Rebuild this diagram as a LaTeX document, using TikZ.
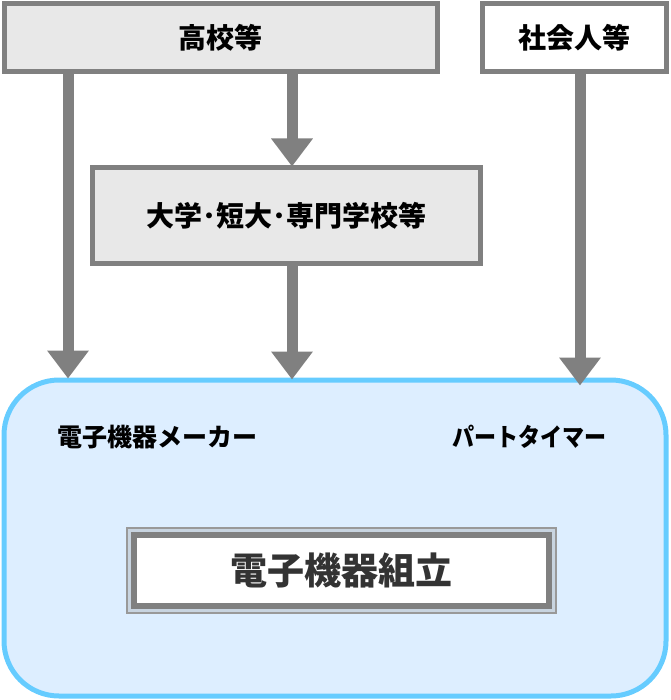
\documentclass[tikz,border=0pt]{standalone}
\usepackage{fontspec}
\setmainfont{Noto Sans CJK JP}
\usetikzlibrary{arrows.meta,calc}
\definecolor{bordergray}{HTML}{808080}
\definecolor{boxfill}{HTML}{E8E8E8}
\definecolor{bigborder}{HTML}{66CCFF}
\definecolor{bigfill}{HTML}{DDEEFF}
\definecolor{darktext}{HTML}{333333}
\definecolor{gapfill}{HTML}{C8D4E0}
\tikzset{
  srcbox/.style={draw=bordergray, line width=5pt, rectangle, inner sep=0pt, font=\bfseries\fontsize{28}{30}\selectfont},
  flowarrow/.style={draw=bordergray, line width=11pt, -{Triangle[length=28pt,width=40pt]}},
  biglabel/.style={font=\bfseries\fontsize{25}{28}\selectfont, inner sep=0pt},
}
\begin{document}
\begin{tikzpicture}[x=1pt,y=-1pt]
\useasboundingbox (0,0) rectangle (670,700);
% big rounded box
\node[draw=bigborder, fill=bigfill, line width=5pt, rounded corners=55pt, minimum width=662pt, minimum height=316pt, inner sep=0pt] (big) at (335,538) {};
% top boxes
\node[srcbox, fill=boxfill, minimum width=433pt, minimum height=68pt] (koko) at (220.5,38) {高校等};
\node[srcbox, fill=white, minimum width=184pt, minimum height=68pt] (shakai) at (574,38) {社会人等};
\node[srcbox, fill=boxfill, minimum width=388pt, minimum height=95pt] (daigaku) at (286,215.5) {大学･短大･専門学校等};
% arrows
\draw[flowarrow] ([xshift=66.5pt]koko.south west) -- ([xshift=66.5pt,yshift=-1pt]koko.south west |- big.north);
\draw[flowarrow] ([xshift=71.5pt]koko.south) -- ([xshift=71.5pt,yshift=-1pt]koko.south |- daigaku.north);
\draw[flowarrow] ([xshift=6pt]daigaku.south) -- ([xshift=6pt,yshift=-2pt]daigaku.south |- big.north);
\draw[flowarrow] ([xshift=6pt]shakai.south) -- ([xshift=6pt,yshift=-8pt]shakai.south |- big.north);
% labels
\node[biglabel] (maker) at (157,437) {電子機器メーカー};
\node[biglabel] (part) at (529,437) {\scalebox{0.88}[1]{パートタイマー}};
% inner double box
\node[draw=bordergray!80, line width=1.2pt, fill=gapfill, minimum width=429pt, minimum height=85pt, inner sep=0pt] (outerjob) at (341.5,570.5) {};
\node[draw=bordergray, line width=6pt, fill=white, minimum width=415pt, minimum height=71pt, inner sep=0pt, text=darktext, font=\bfseries\fontsize{37}{40}\selectfont] (job) at (341.5,570.5) {電子機器組立};
\end{tikzpicture}
\end{document}
